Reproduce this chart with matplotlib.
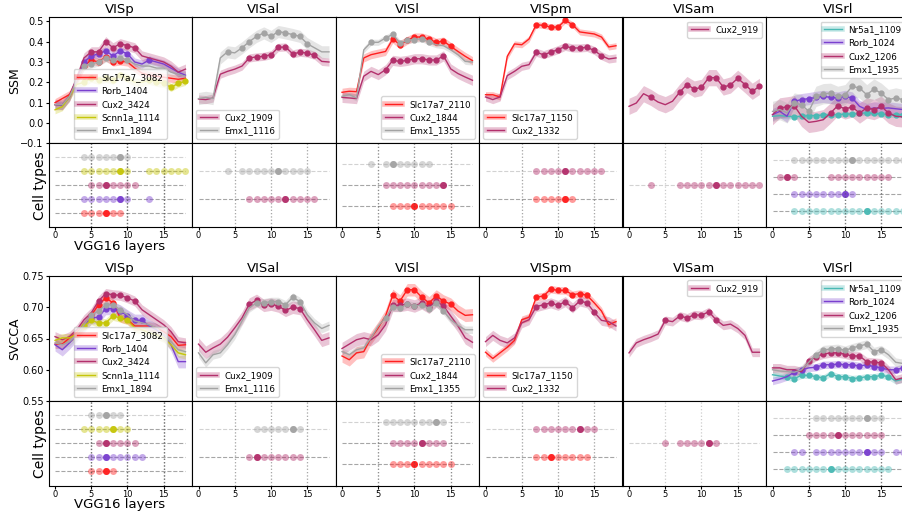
import matplotlib.pyplot as plt
from matplotlib.lines import Line2D

layers = list(range(19))
areas = ['VISp', 'VISal', 'VISl', 'VISpm', 'VISam', 'VISrl']

colors = {'Slc17a7': '#ff1f1f', 'Rorb': '#7a40cf', 'Cux2': '#b3306c',
          'Scnn1a': '#c6c60a', 'Emx1': '#a3a3a3', 'Nr5a1': '#4ab9b4'}

# ---------------- SSM ----------------
ssm_visp_names = ['Slc17a7_3082', 'Rorb_1404', 'Cux2_3424', 'Scnn1a_1114', 'Emx1_1894']
ssm_visp_mean = [
    [0.10, 0.12, 0.14, 0.21, 0.28, 0.31, 0.30, 0.325, 0.30, 0.305, 0.30, 0.27, 0.245, 0.235, 0.23, 0.225, 0.22, 0.215, 0.22],
    [0.09, 0.085, 0.13, 0.22, 0.30, 0.33, 0.34, 0.355, 0.33, 0.355, 0.34, 0.30, 0.29, 0.31, 0.30, 0.29, 0.27, 0.25, 0.235],
    [0.09, 0.09, 0.13, 0.22, 0.32, 0.35, 0.35, 0.40, 0.37, 0.39, 0.38, 0.37, 0.33, 0.32, 0.31, 0.30, 0.28, 0.25, 0.265],
    [0.065, 0.08, 0.13, 0.19, 0.20, 0.22, 0.21, 0.22, 0.21, 0.235, 0.22, 0.20, 0.20, 0.21, 0.20, 0.195, 0.175, 0.195, 0.205],
    [0.09, 0.09, 0.13, 0.21, 0.28, 0.29, 0.30, 0.32, 0.31, 0.32, 0.31, 0.29, 0.28, 0.28, 0.27, 0.27, 0.25, 0.24, 0.23],
]
ssm_visp_err = [0.02, 0.02, 0.025, 0.02, 0.02]
ssm_visp_sig = [[4, 5, 6, 7, 8, 9], [4, 5, 6, 7, 8, 9, 10, 13], [5, 6, 7, 8, 9, 10, 11],
                [4, 5, 6, 7, 8, 9, 10, 13, 14, 15, 16, 17, 18], [4, 5, 6, 7, 8, 9, 10]]
ssm_visp_best = [7, 9, 7, 9, 9]

ssm_visal_names = ['Cux2_1909', 'Emx1_1116']
ssm_visal_mean = [
    [0.118, 0.115, 0.123, 0.24, 0.254, 0.265, 0.28, 0.32, 0.325, 0.328, 0.336, 0.372, 0.374, 0.34, 0.348, 0.344, 0.333, 0.303, 0.30],
    [0.12, 0.126, 0.12, 0.32, 0.35, 0.345, 0.37, 0.40, 0.426, 0.443, 0.426, 0.45, 0.443, 0.435, 0.426, 0.39, 0.37, 0.35, 0.35],
]
ssm_visal_err = [0.02, 0.03]
ssm_visal_sig = [[7, 8, 9, 10, 11, 12, 13, 14, 15, 16], [4, 6, 7, 8, 9, 10, 11, 12, 13, 14, 15]]
ssm_visal_best = [12, 11]

ssm_visl_names = ['Slc17a7_2110', 'Cux2_1844', 'Emx1_1355']
ssm_visl_mean = [
    [0.151, 0.156, 0.154, 0.32, 0.336, 0.344, 0.352, 0.413, 0.385, 0.407, 0.423, 0.423, 0.413, 0.397, 0.403, 0.377, 0.352, 0.328, 0.307],
    [0.126, 0.123, 0.12, 0.23, 0.254, 0.238, 0.262, 0.308, 0.303, 0.308, 0.316, 0.316, 0.31, 0.31, 0.33, 0.266, 0.243, 0.226, 0.21],
    [0.131, 0.14, 0.123, 0.36, 0.397, 0.397, 0.418, 0.436, 0.393, 0.407, 0.41, 0.415, 0.397, 0.385, 0.38, 0.36, 0.336, 0.303, 0.30],
]
ssm_visl_err = [0.02, 0.025, 0.015]
ssm_visl_sig = [[7, 8, 9, 10, 11, 12, 13, 14, 15], [6, 7, 8, 9, 10, 11, 12, 13, 14],
                [4, 6, 7, 8, 9, 10, 11, 12]]
ssm_visl_best = [10, 14, 7]

ssm_vispm_names = ['Slc17a7_1150', 'Cux2_1332']
ssm_vispm_mean = [
    [0.139, 0.139, 0.128, 0.328, 0.389, 0.385, 0.413, 0.484, 0.48, 0.472, 0.472, 0.505, 0.484, 0.448, 0.443, 0.438, 0.423, 0.374, 0.38],
    [0.128, 0.115, 0.128, 0.233, 0.254, 0.279, 0.287, 0.348, 0.336, 0.348, 0.361, 0.377, 0.369, 0.369, 0.372, 0.357, 0.331, 0.315, 0.32],
]
ssm_vispm_err = [0.015, 0.02]
ssm_vispm_sig = [[7, 8, 9, 10, 11, 12], [7, 8, 9, 10, 11, 12, 13, 14, 15, 16]]
ssm_vispm_best = [11, 11]

ssm_visam_names = ['Cux2_919']
ssm_visam_mean = [
    [0.082, 0.098, 0.144, 0.126, 0.103, 0.09, 0.107, 0.152, 0.189, 0.167, 0.175, 0.223, 0.223, 0.177, 0.187, 0.22, 0.189, 0.156, 0.18],
]
ssm_visam_err = [0.04]
ssm_visam_sig = [[3, 7, 8, 9, 10, 11, 12, 13, 14, 15, 16, 17, 18]]
ssm_visam_best = [12]

ssm_visrl_names = ['Nr5a1_1109', 'Rorb_1024', 'Cux2_1206', 'Emx1_1935']
ssm_visrl_mean = [
    [0.033, 0.036, 0.033, 0.03, 0.033, 0.036, 0.036, 0.04, 0.04, 0.041, 0.044, 0.044, 0.047, 0.05, 0.047, 0.044, 0.04, 0.04, 0.04],
    [0.041, 0.057, 0.033, 0.107, 0.115, 0.12, 0.126, 0.131, 0.126, 0.123, 0.131, 0.123, 0.082, 0.066, 0.074, 0.072, 0.074, 0.07, 0.066],
    [0.041, 0.074, 0.079, 0.085, 0.033, 0.003, 0.008, 0.016, 0.049, 0.085, 0.069, 0.079, 0.049, 0.074, 0.066, 0.082, 0.049, 0.033, 0.03],
    [0.057, 0.066, 0.05, 0.098, 0.09, 0.057, 0.131, 0.144, 0.146, 0.131, 0.139, 0.18, 0.172, 0.139, 0.167, 0.146, 0.115, 0.123, 0.115],
]
ssm_visrl_err = [0.012, 0.03, 0.05, 0.05]
ssm_visrl_sig = [[3, 4, 5, 6, 7, 8, 9, 10, 11, 12, 13, 14, 15, 16, 17, 18],
                 [3, 4, 5, 6, 7, 8, 9, 10, 11],
                 [1, 2, 3, 8, 9, 10, 11, 12, 13, 14, 15, 16],
                 [3, 4, 5, 6, 7, 8, 9, 10, 11, 12, 13, 14, 15, 16, 17, 18]]
ssm_visrl_best = [13, 10, 2, 11]

# ---------------- SVCCA ----------------
svcca_visp_names = ssm_visp_names
svcca_visp_mean = [
    [0.641, 0.641, 0.651, 0.659, 0.672, 0.687, 0.704, 0.715, 0.707, 0.683, 0.68, 0.67, 0.67, 0.67, 0.667, 0.661, 0.653, 0.639, 0.64],
    [0.64, 0.632, 0.643, 0.656, 0.67, 0.683, 0.684, 0.698, 0.698, 0.694, 0.686, 0.679, 0.679, 0.67, 0.664, 0.656, 0.64, 0.613, 0.613],
    [0.653, 0.648, 0.653, 0.664, 0.68, 0.691, 0.71, 0.722, 0.72, 0.719, 0.715, 0.71, 0.696, 0.688, 0.68, 0.672, 0.661, 0.645, 0.643],
    [0.647, 0.651, 0.651, 0.657, 0.67, 0.679, 0.675, 0.675, 0.686, 0.683, 0.679, 0.667, 0.664, 0.659, 0.656, 0.651, 0.64, 0.627, 0.624],
    [0.643, 0.64, 0.645, 0.656, 0.672, 0.688, 0.694, 0.704, 0.704, 0.696, 0.688, 0.678, 0.675, 0.672, 0.667, 0.656, 0.645, 0.632, 0.629],
]
svcca_visp_err = [0.007, 0.01, 0.008, 0.007, 0.007]
svcca_visp_sig = [[5, 6, 7, 8], [5, 6, 7, 8, 9, 10, 11, 12], [6, 7, 8, 9, 10, 11],
                  [4, 5, 6, 7, 8, 9, 10], [5, 6, 7, 8, 9]]
svcca_visp_best = [7, 7, 7, 8, 7]

svcca_visal_names = ssm_visal_names
svcca_visal_mean = [
    [0.641, 0.628, 0.635, 0.641, 0.652, 0.667, 0.683, 0.705, 0.711, 0.703, 0.705, 0.702, 0.695, 0.70, 0.698, 0.68, 0.664, 0.647, 0.651],
    [0.627, 0.611, 0.624, 0.627, 0.64, 0.656, 0.678, 0.699, 0.707, 0.707, 0.709, 0.709, 0.704, 0.716, 0.709, 0.688, 0.675, 0.666, 0.671],
]
svcca_visal_err = [0.01, 0.007]
svcca_visal_sig = [[7, 8, 9, 10, 11, 12, 13, 14], [8, 9, 10, 11, 12, 13, 14]]
svcca_visal_best = [8, 13]

svcca_visl_names = ssm_visl_names
svcca_visl_mean = [
    [0.622, 0.616, 0.627, 0.629, 0.651, 0.667, 0.686, 0.719, 0.71, 0.728, 0.728, 0.716, 0.707, 0.718, 0.71, 0.705, 0.694, 0.687, 0.688],
    [0.634, 0.641, 0.648, 0.651, 0.648, 0.656, 0.672, 0.703, 0.703, 0.705, 0.702, 0.707, 0.70, 0.71, 0.702, 0.686, 0.67, 0.651, 0.644],
    [0.629, 0.624, 0.632, 0.635, 0.651, 0.67, 0.683, 0.70, 0.699, 0.705, 0.702, 0.704, 0.698, 0.707, 0.694, 0.68, 0.671, 0.664, 0.664],
]
svcca_visl_err = [0.01, 0.01, 0.006]
svcca_visl_sig = [[7, 8, 9, 10, 11, 12, 13, 14, 15], [7, 8, 9, 10, 11, 12, 13, 14],
                  [6, 7, 8, 9, 10, 11, 12, 13, 14]]
svcca_visl_best = [10, 11, 13]

svcca_vispm_names = ssm_vispm_names
svcca_vispm_mean = [
    [0.628, 0.618, 0.627, 0.636, 0.647, 0.68, 0.684, 0.716, 0.718, 0.729, 0.727, 0.727, 0.72, 0.722, 0.719, 0.707, 0.694, 0.672, 0.677],
    [0.645, 0.655, 0.647, 0.643, 0.651, 0.675, 0.68, 0.701, 0.704, 0.707, 0.703, 0.709, 0.699, 0.71, 0.707, 0.692, 0.679, 0.677, 0.67],
]
svcca_vispm_err = [0.006, 0.008]
svcca_vispm_sig = [[7, 8, 9, 10, 11, 12, 13, 14], [7, 8, 9, 10, 11, 12, 13, 14, 15]]
svcca_vispm_best = [9, 13]

svcca_visam_names = ssm_visam_names
svcca_visam_mean = [
    [0.627, 0.643, 0.648, 0.652, 0.657, 0.679, 0.677, 0.686, 0.683, 0.688, 0.687, 0.693, 0.68, 0.671, 0.673, 0.666, 0.655, 0.628, 0.628],
]
svcca_visam_err = [0.007]
svcca_visam_sig = [[5, 7, 8, 9, 10, 11, 12]]
svcca_visam_best = [11]

svcca_visrl_names = ssm_visrl_names
svcca_visrl_mean = [
    [0.592, 0.59, 0.588, 0.586, 0.591, 0.591, 0.589, 0.587, 0.594, 0.589, 0.589, 0.586, 0.587, 0.589, 0.589, 0.591, 0.589, 0.582, 0.585],
    [0.582, 0.585, 0.589, 0.596, 0.60, 0.603, 0.604, 0.608, 0.608, 0.609, 0.608, 0.608, 0.606, 0.608, 0.605, 0.603, 0.60, 0.60, 0.603],
    [0.603, 0.603, 0.60, 0.60, 0.597, 0.614, 0.621, 0.625, 0.627, 0.627, 0.625, 0.622, 0.622, 0.613, 0.612, 0.611, 0.60, 0.584, 0.587],
    [0.60, 0.598, 0.597, 0.596, 0.60, 0.612, 0.624, 0.632, 0.633, 0.634, 0.631, 0.635, 0.638, 0.641, 0.629, 0.632, 0.624, 0.612, 0.61],
]
svcca_visrl_err = [0.005, 0.006, 0.007, 0.007]
svcca_visrl_sig = [[2, 3, 4, 5, 6, 7, 8, 9, 10, 11, 12, 13, 14, 15, 16],
                   [3, 4, 6, 7, 8, 9, 10, 11, 12, 13, 14, 15, 17, 18],
                   [5, 6, 7, 8, 9, 10, 11, 12, 13, 14, 15],
                   [6, 7, 8, 9, 10, 11, 12, 13, 14, 15]]
svcca_visrl_best = [8, 13, 9, 13]

panels = {
    'ssm': [(ssm_visp_names, ssm_visp_mean, ssm_visp_err, ssm_visp_sig, ssm_visp_best),
            (ssm_visal_names, ssm_visal_mean, ssm_visal_err, ssm_visal_sig, ssm_visal_best),
            (ssm_visl_names, ssm_visl_mean, ssm_visl_err, ssm_visl_sig, ssm_visl_best),
            (ssm_vispm_names, ssm_vispm_mean, ssm_vispm_err, ssm_vispm_sig, ssm_vispm_best),
            (ssm_visam_names, ssm_visam_mean, ssm_visam_err, ssm_visam_sig, ssm_visam_best),
            (ssm_visrl_names, ssm_visrl_mean, ssm_visrl_err, ssm_visrl_sig, ssm_visrl_best)],
    'svcca': [(svcca_visp_names, svcca_visp_mean, svcca_visp_err, svcca_visp_sig, svcca_visp_best),
              (svcca_visal_names, svcca_visal_mean, svcca_visal_err, svcca_visal_sig, svcca_visal_best),
              (svcca_visl_names, svcca_visl_mean, svcca_visl_err, svcca_visl_sig, svcca_visl_best),
              (svcca_vispm_names, svcca_vispm_mean, svcca_vispm_err, svcca_vispm_sig, svcca_vispm_best),
              (svcca_visam_names, svcca_visam_mean, svcca_visam_err, svcca_visam_sig, svcca_visam_best),
              (svcca_visrl_names, svcca_visrl_mean, svcca_visrl_err, svcca_visrl_sig, svcca_visrl_best)],
}
legend_locs = ['lower center', 'lower left', 'lower right', 'lower left', 'upper right', 'upper right']

W, H = 902, 515
fig = plt.figure(figsize=(W / 100, H / 100), dpi=100)

# pixel layout: (line-axes top, line-axes bottom, dots bottom)
rows = {'ssm': (17.3, 143.3, 227.3), 'svcca': (276.0, 401.0, 485.5)}
ylims = {'ssm': (-0.1, 0.52), 'svcca': (0.55, 0.75)}
yticks = {'ssm': [-0.1, 0.0, 0.1, 0.2, 0.3, 0.4, 0.5], 'svcca': [0.55, 0.60, 0.65, 0.70, 0.75]}
ylabels = {'ssm': 'SSM', 'svcca': 'SVCCA'}
col_w = 143.5

for metric, (t, m, b) in rows.items():
    for ci, area in enumerate(areas):
        left = 48.5 + ci * col_w
        ax = fig.add_axes([left / W, 1 - m / H, col_w / W, (m - t) / H])
        axd = fig.add_axes([left / W, 1 - b / H, col_w / W, (b - m) / H])
        names, means, errs, sigs, bests = panels[metric][ci]
        handles = []
        n = len(names)
        for i in range(n):
            c = colors[names[i].split('_')[0]]
            mu = means[i]
            lo = [v - errs[i] for v in mu]
            hi = [v + errs[i] for v in mu]
            ax.fill_between(layers, lo, hi, color=c, alpha=0.28, lw=0)
            ax.plot(layers, mu, color=c, lw=1)
            ax.plot(sigs[i], [mu[k] for k in sigs[i]], 'o', color=c, ms=3.5)
            handles.append((Line2D([], [], color=c, lw=4, alpha=0.3),
                            Line2D([], [], color=c, lw=1)))

            # significance row
            top_row = (i == n - 1)
            axd.hlines(i, 0, 18, colors='gray', linestyles='--', lw=0.8,
                       alpha=0.35 if top_row else 0.7)
            for xv in (5, 10, 15):
                axd.axvline(xv, color='#555555', ls=':', lw=0.9, alpha=0.3)
            axd.plot(sigs[i], [i] * len(sigs[i]), 'o', color=c, ms=5, alpha=0.45, mec='none')
            axd.plot([bests[i]], [i], 'o', color=c, ms=5, alpha=0.95, mec='none')

        ax.set_xlim(-0.9, 18.9)
        ax.set_ylim(*ylims[metric])
        ax.set_xticks([])
        axd.set_xlim(-0.9, 18.9)
        axd.set_ylim(-1, n)
        axd.set_yticks([])
        axd.set_xticks([0, 5, 10, 15])
        axd.tick_params(axis='x', labelsize=6, length=2, pad=1)
        if ci == 0:
            ax.set_yticks(yticks[metric])
            ax.tick_params(axis='y', labelsize=7, length=2, pad=1.5)
        else:
            ax.set_yticks([])
        ax.set_title(area, fontsize=9.5, pad=3)
        ax.legend(handles, names, loc=legend_locs[ci], fontsize=6.3, framealpha=0.8,
                  handlelength=2, labelspacing=0.5, borderpad=0.4)

    fig.text(15 / W, 1 - (t + m) / 2 / H, ylabels[metric], rotation=90,
             ha='center', va='center', fontsize=9)
    fig.text(40 / W, 1 - (m + b) / 2 / H, 'Cell types', rotation=90,
             ha='center', va='center', fontsize=10)
    fig.text(120 / W, 1 - (b + 19) / H, 'VGG16 layers', ha='center', va='center', fontsize=9.5)

fig.savefig('out.png', dpi=100)
